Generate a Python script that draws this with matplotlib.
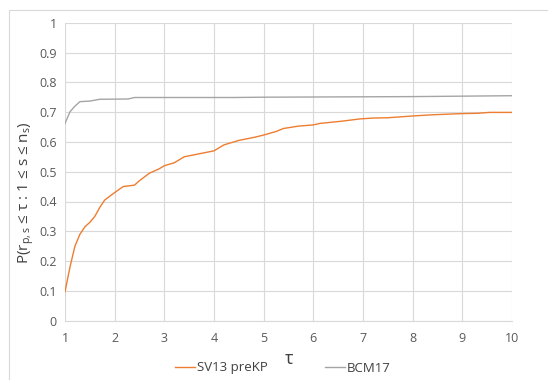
import matplotlib
matplotlib.use("Agg")
import matplotlib.pyplot as plt
from matplotlib.patches import Rectangle

tau_sv = [1.0, 1.1, 1.2, 1.3, 1.4, 1.5, 1.6, 1.7, 1.8, 2.0, 2.17, 2.4, 2.5, 2.7, 2.9, 3.0,
          3.2, 3.4, 3.7, 4.0, 4.2, 4.5, 4.8, 5.0, 5.25, 5.4, 5.7, 6.0, 6.13, 6.6, 6.93,
          7.2, 7.5, 8.0, 8.4, 9.0, 9.3, 9.55, 10.0]
p_sv = [0.097, 0.18, 0.25, 0.29, 0.315, 0.33, 0.35, 0.38, 0.405, 0.43, 0.45, 0.455, 0.47,
        0.495, 0.51, 0.52, 0.53, 0.55, 0.56, 0.57, 0.59, 0.605, 0.615, 0.623, 0.635, 0.645,
        0.653, 0.657, 0.662, 0.67, 0.677, 0.68, 0.681, 0.687, 0.691, 0.695, 0.696, 0.699, 0.699]

tau_bcm = [1.0, 1.1, 1.2, 1.3, 1.5, 1.7, 2.27, 2.4, 4.4, 5.0, 8.0, 10.0]
p_bcm = [0.662, 0.701, 0.72, 0.735, 0.737, 0.743, 0.744, 0.749, 0.749, 0.75, 0.752, 0.755]

xticks = [1, 2, 3, 4, 5, 6, 7, 8, 9, 10]
yticks = [0, 0.1, 0.2, 0.3, 0.4, 0.5, 0.6, 0.7, 0.8, 0.9, 1]
ytick_labels = ["0", "0.1", "0.2", "0.3", "0.4", "0.5", "0.6", "0.7", "0.8", "0.9", "1"]

plt.rcParams['font.family'] = ['Open Sans', 'DejaVu Sans']
plt.rcParams['mathtext.default'] = 'regular'

fig = plt.figure(figsize=(5.48, 3.8), dpi=100)
fig.patches.append(Rectangle((9/548, -0.1), 1.2, 1 - 10/380 + 0.1, transform=fig.transFigure,
                             fill=False, edgecolor='#D9D9D9', linewidth=0.8, zorder=0))
ax = fig.add_axes([65/548, 1 - 320.7/380, (512 - 65)/548, (320.7 - 22.7)/380])

l1, = ax.plot(tau_sv, p_sv, color='#ED7D31', linewidth=1.0, label='SV13 preKP', zorder=3)
l2, = ax.plot(tau_bcm, p_bcm, color='#A5A5A5', linewidth=1.0, label='BCM17', zorder=3)

ax.set_xlim(1, 10)
ax.set_ylim(0, 1)
ax.set_xticks(xticks)
ax.set_xticklabels([str(t) for t in xticks])
ax.set_yticks(yticks)
ax.set_yticklabels(ytick_labels)
ax.grid(True, color='#D9D9D9', linewidth=0.8, zorder=0)
for s in ['top', 'right', 'left']:
    ax.spines[s].set_visible(False)
ax.spines['bottom'].set_color('#D9D9D9')
ax.tick_params(length=0, labelsize=9, colors='#595959', pad=8)
ax.tick_params(axis='y', pad=6)

ax.set_xlabel('τ', fontsize=13, color='#404040')
ax.xaxis.set_label_coords((289 - 65) / 447, -(350 - 320.7) / 298)
ax.set_ylabel(r'P(r$_{p,s}$ ≤ τ : 1 ≤ s ≤ n$_s$)', fontsize=11, color='#404040')
ax.yaxis.set_label_coords((36 - 65) / 447, (320.7 - 193) / 298)

leg = fig.legend(handles=[l1, l2], loc='center', bbox_to_anchor=(283/548, 12/380), ncol=2,
                 frameon=False, fontsize=9.5, handlelength=1.55, columnspacing=4.3,
                 handletextpad=0.15, borderaxespad=0)
for t in leg.get_texts():
    t.set_color('#404040')

fig.savefig('out.png', dpi=100)
